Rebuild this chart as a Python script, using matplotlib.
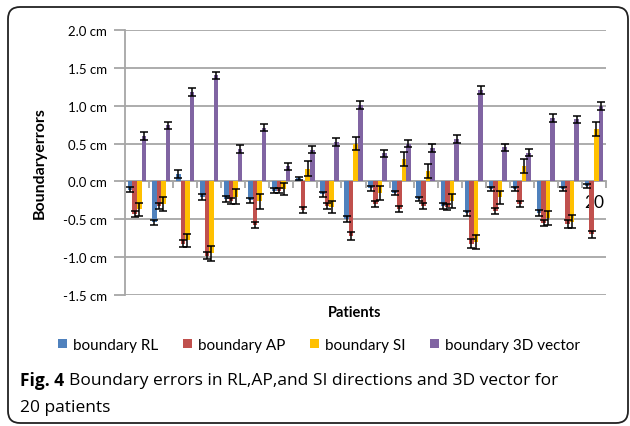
import matplotlib
matplotlib.use("Agg")
import matplotlib.pyplot as plt
import numpy as np
from matplotlib.patches import FancyBboxPatch, Patch

patients = list(range(1, 21))
rl = [-0.11, -0.54, 0.10, -0.20, -0.23, -0.25, -0.12, 0.04, -0.17, -0.50,
      -0.09, -0.15, -0.23, -0.32, -0.42, -0.10, -0.10, -0.42, -0.10, -0.06]
rl_err = [0.03, 0.03, 0.05, 0.04, 0.04, 0.03, 0.03, 0.02, 0.03, 0.04,
          0.03, 0.03, 0.03, 0.04, 0.03, 0.03, 0.03, 0.04, 0.03, 0.03]
ap = [-0.43, -0.33, -0.82, -0.98, -0.26, -0.58, -0.12, -0.38, -0.32, -0.72,
      -0.30, -0.36, -0.32, -0.34, -0.82, -0.39, -0.30, -0.55, -0.56, -0.70]
ap_err = [0.04, 0.04, 0.05, 0.05, 0.04, 0.04, 0.03, 0.04, 0.04, 0.05,
          0.04, 0.04, 0.04, 0.04, 0.06, 0.04, 0.04, 0.04, 0.05, 0.05]
si = [-0.37, -0.30, -0.78, -0.95, -0.20, -0.26, -0.10, 0.17, -0.34, 0.50,
      -0.15, 0.30, 0.14, -0.26, -0.80, -0.21, 0.20, -0.48, -0.53, 0.69]
si_err = [0.09, 0.09, 0.09, 0.10, 0.10, 0.10, 0.08, 0.10, 0.08, 0.09,
          0.09, 0.09, 0.09, 0.09, 0.09, 0.09, 0.09, 0.09, 0.09, 0.09]
vec = [0.60, 0.74, 1.18, 1.40, 0.43, 0.71, 0.20, 0.42, 0.52, 1.01,
       0.37, 0.50, 0.44, 0.56, 1.21, 0.45, 0.38, 0.84, 0.82, 1.00]
vec_err = [0.05, 0.05, 0.05, 0.05, 0.05, 0.05, 0.05, 0.05, 0.05, 0.05,
           0.05, 0.05, 0.05, 0.05, 0.05, 0.05, 0.05, 0.05, 0.05, 0.05]

series = [("boundary RL", rl, rl_err, "#4F81BD"),
          ("boundary AP", ap, ap_err, "#C0504D"),
          ("boundary SI", si, si_err, "#FFC000"),
          ("boundary 3D vector", vec, vec_err, "#8064A2")]
yticks = [-1.5, -1.0, -0.5, 0.0, 0.5, 1.0, 1.5, 2.0]
ytick_labels = [f"{v:.1f} cm" for v in yticks]

plt.rcParams['font.family'] = ['Lato', 'DejaVu Sans']

fig = plt.figure(figsize=(6.3, 4.27), dpi=100)
border = FancyBboxPatch((0.08, 0.03), 6.2, 4.16,
                        boxstyle="round,pad=0,rounding_size=0.12",
                        transform=fig.dpi_scale_trans, facecolor="white",
                        edgecolor="#222222", linewidth=1.3, zorder=-10)
fig.patches.append(border)

ax = fig.add_axes([125/630, 1-296/427, (606-125)/630, (296-31)/427])
ax.set_facecolor("none")
x = np.arange(1, 21)
w = 0.19
for i, (name, vals, errs, col) in enumerate(series):
    pos = x + (i - 1.5) * w
    ax.bar(pos, vals, width=w, color=col, zorder=3, label=name)
    ax.errorbar(pos, vals, yerr=errs, fmt="none", ecolor="black",
                elinewidth=1.1, capsize=3, capthick=1.1, zorder=4)

ax.set_xlim(0.5, 20.5)
ax.set_ylim(-1.5, 2.0)
ax.set_yticks(yticks)
ax.set_yticklabels(ytick_labels, fontsize=9.5)
ax.yaxis.grid(True, color="#A6A6A6", linewidth=1.3, zorder=0)
ax.tick_params(axis="y", length=8, color="#A6A6A6", width=1.3, pad=5)
for s in ["top", "right"]:
    ax.spines[s].set_visible(False)
ax.spines["left"].set_color("#A6A6A6")
ax.spines["left"].set_linewidth(1.3)
ax.spines["bottom"].set_position(("data", 0))
ax.spines["bottom"].set_color("#A6A6A6")
ax.spines["bottom"].set_linewidth(1.3)
ax.spines["bottom"].set_zorder(2)
ax.set_xticks(x)
ax.set_xticklabels(["" if p != 20 else "20" for p in patients], fontsize=12.5)
ax.set_xticks(np.arange(0.5, 21, 1), minor=True)
ax.tick_params(axis="x", which="major", length=0, pad=9)
ax.tick_params(axis="x", which="minor", length=5, color="#A6A6A6", width=1.3)

fig.text(40/630, 1-163/427, "Boundaryerrors", rotation=90, ha="center",
         va="center", fontsize=11.5, fontweight="bold")
fig.text(355/630, 1-313/427, "Patients", ha="center", va="center",
         fontsize=10.5, fontweight="bold")

handles = [Patch(facecolor=c, edgecolor="none") for _, _, _, c in series]
fig.legend(handles, [n for n, _, _, _ in series], loc="center",
           bbox_to_anchor=(319/630, 1-346/427), ncol=4, frameon=False,
           fontsize=11, handlelength=0.6, handleheight=0.6,
           handletextpad=0.4, columnspacing=1.6)

t1 = fig.text(20/630, 1-381/427, "Fig. 4", fontsize=12.5, fontweight="bold",
              va="center", ha="left", family=["Open Sans", "DejaVu Sans"])
fig.canvas.draw()
bb = t1.get_window_extent(fig.canvas.get_renderer())
fig.text(bb.x1/630 + 5/630, 1-381/427,
         "Boundary errors in RL,AP,and SI directions and 3D vector for",
         fontsize=12.5, va="center", ha="left", family=["Open Sans", "DejaVu Sans"])
fig.text(20/630, 1-408/427, "20 patients", fontsize=12.5, va="center",
         ha="left", family=["Open Sans", "DejaVu Sans"])

fig.savefig("out.png", dpi=100)
